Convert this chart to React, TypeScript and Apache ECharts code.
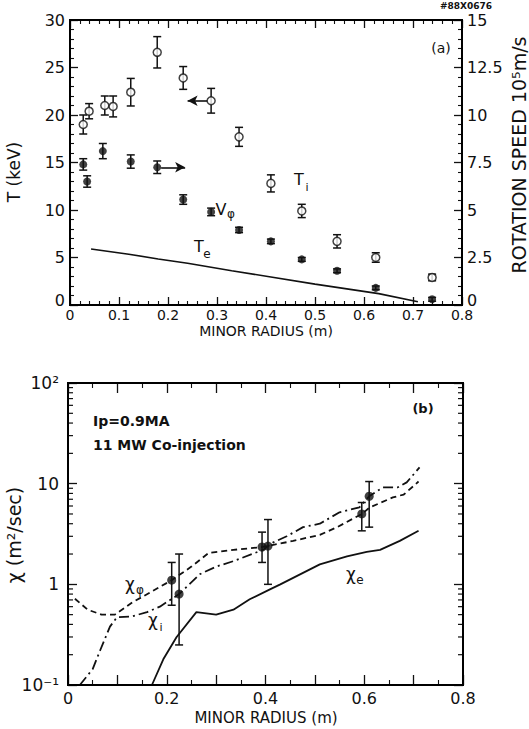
import React, { useEffect, useRef } from "react";
import * as echarts from "echarts";

// ---------- Panel (a) data ----------
const tiR = [0.027, 0.039, 0.071, 0.088, 0.124, 0.178, 0.231, 0.288, 0.345, 0.41, 0.473, 0.545, 0.624, 0.739];
const tiT = [19.0, 20.4, 21.0, 20.9, 22.4, 26.6, 23.9, 21.5, 17.7, 12.8, 9.9, 6.7, 5.0, 2.9];
const tiErr = [1.0, 0.8, 1.0, 1.1, 1.45, 1.65, 1.2, 1.3, 1.0, 0.9, 0.7, 0.7, 0.5, 0.35];

const vR = [0.027, 0.035, 0.067, 0.124, 0.178, 0.231, 0.288, 0.345, 0.41, 0.473, 0.545, 0.624, 0.739];
const vV = [7.4, 6.5, 8.1, 7.55, 7.25, 5.55, 4.9, 3.95, 3.35, 2.4, 1.8, 0.9, 0.3];
const vErr = [0.3, 0.3, 0.4, 0.35, 0.33, 0.25, 0.2, 0.14, 0.12, 0.1, 0.1, 0.1, 0.1];

const teR = [0.043, 0.12, 0.18, 0.24, 0.33, 0.41, 0.5, 0.63, 0.71];
const teT = [5.9, 5.35, 4.85, 4.4, 3.6, 2.95, 2.2, 1.2, 0.35];

// ---------- Panel (b) data ----------
const chiPhiR = [0.014, 0.04, 0.068, 0.095, 0.13, 0.17, 0.21, 0.25, 0.285, 0.335, 0.395, 0.456, 0.51, 0.545, 0.595, 0.611, 0.658, 0.68, 0.71];
const chiPhiV = [0.72, 0.56, 0.5, 0.5, 0.66, 0.85, 1.1, 1.5, 2.05, 2.2, 2.35, 2.7, 3.1, 3.7, 5.0, 5.8, 7.3, 7.8, 10.5];

const chiIR = [0.024, 0.05, 0.065, 0.085, 0.099, 0.13, 0.16, 0.186, 0.225, 0.267, 0.3, 0.335, 0.395, 0.415, 0.443, 0.476, 0.51, 0.55, 0.59, 0.61, 0.638, 0.668, 0.686, 0.712];
const chiIV = [0.1, 0.144, 0.22, 0.38, 0.47, 0.48, 0.53, 0.6, 0.8, 1.26, 1.5, 1.7, 2.2, 2.6, 3.0, 3.7, 4.0, 5.2, 5.8, 7.5, 9.2, 9.2, 10.3, 14.5];

const chiER = [0.17, 0.193, 0.22, 0.26, 0.3, 0.335, 0.368, 0.409, 0.43, 0.51, 0.565, 0.605, 0.632, 0.672, 0.71];
const chiEV = [0.1, 0.18, 0.3, 0.53, 0.5, 0.56, 0.71, 0.89, 1.0, 1.58, 1.9, 2.1, 2.2, 2.7, 3.4];

const chiPhiPtR = [0.21, 0.393, 0.595];
const chiPhiPtV = [1.1, 2.35, 5.0];
const chiPhiPtLo = [0.62, 1.65, 3.4];
const chiPhiPtHi = [1.65, 3.3, 6.5];

const chiIPtR = [0.225, 0.405, 0.61];
const chiIPtV = [0.8, 2.4, 7.5];
const chiIPtLo = [0.25, 1.0, 3.7];
const chiIPtHi = [2.0, 4.4, 10.5];

const logMinorTicks = [0.2, 0.3, 0.4, 0.5, 0.6, 0.7, 0.8, 0.9, 2, 3, 4, 5, 6, 7, 8, 9, 20, 30, 40, 50, 60, 70, 80, 90];

// axis extents
const X_MIN = 0, X_MAX = 0.8;
const T_MIN = 0, T_MAX = 30;
const CHI_MIN = 0.1, CHI_MAX = 100;

// panel layout (pixels)
const G1 = { left: 70, top: 20, width: 392, height: 285 };
const G2 = { left: 68, top: 383, width: 395, height: 302 };

const FONT = "DejaVu Sans";
const INK = "#111";

function errRender(params: any, api: any) {
  const x = api.value(0);
  const lo = api.value(1);
  const hi = api.value(2);
  const a = api.coord([x, lo]);
  const b = api.coord([x, hi]);
  const w = 4;
  const st = { stroke: INK, lineWidth: 1.5 };
  return {
    type: "group",
    children: [
      { type: "line", shape: { x1: a[0], y1: a[1], x2: b[0], y2: b[1] }, style: st },
      { type: "line", shape: { x1: a[0] - w, y1: a[1], x2: a[0] + w, y2: a[1] }, style: st },
      { type: "line", shape: { x1: b[0] - w, y1: b[1], x2: b[0] + w, y2: b[1] }, style: st },
    ],
  };
}

function minorTickRender(params: any, api: any) {
  const v = api.value(1);
  const l = api.coord([X_MIN, v]);
  const r = api.coord([X_MAX, v]);
  const st = { stroke: INK, lineWidth: 1.2 };
  return {
    type: "group",
    children: [
      { type: "line", shape: { x1: l[0] + 0.5, y1: l[1], x2: l[0] + 5, y2: l[1] }, style: st },
      { type: "line", shape: { x1: r[0] - 5, y1: r[1], x2: r[0] - 0.5, y2: r[1] }, style: st },
    ],
  };
}

function txt(text: string, x: number, y: number, size: number, extra: any = {}) {
  return {
    type: "text",
    x,
    y,
    rotation: extra.rotation || 0,
    z: 100,
    style: {
      text,
      fontSize: size,
      fontFamily: FONT,
      fontWeight: extra.weight || "normal",
      fontStyle: extra.style || "normal",
      fill: INK,
      align: extra.align || "center",
      verticalAlign: "middle",
    },
  };
}

function frameRect(g: { left: number; top: number; width: number; height: number }) {
  return {
    type: "rect",
    z: 90,
    silent: true,
    shape: { x: g.left, y: g.top, width: g.width, height: g.height },
    style: { fill: "rgba(0,0,0,0)", stroke: "#000", lineWidth: 2 },
  };
}

const axisLineStyle = { show: true, onZero: false, lineStyle: { color: "#000", width: 2 } };

export default function App() {
  const ref = useRef<HTMLDivElement>(null);
  useEffect(() => {
    const chart = echarts.init(ref.current!, null, { renderer: "svg" });
    const linTicks = (len: number, split: number) => ({
      axisTick: { show: true, inside: true, length: len, lineStyle: { color: INK, width: 1.3 } },
      minorTick: { show: true, splitNumber: split, length: len / 2, lineStyle: { color: INK, width: 1.1 } },
      splitLine: { show: false },
      minorSplitLine: { show: false },
      axisLine: axisLineStyle,
    });
    const labelStyle = (margin: number, size = 15) => ({
      color: INK,
      fontFamily: FONT,
      fontSize: size,
      margin,
    });
    const liftZero = (size: number) => ({
      formatter: (v: number) => (v === 0 ? "{z|0}" : String(v)),
      rich: { z: { fontSize: size, fontFamily: FONT, color: INK, padding: [0, 0, 10, 0] } },
    });

    const option: any = {
      animation: false,
      backgroundColor: "#fff",
      grid: [G1, G2],
      xAxis: [
        {
          type: "value", gridIndex: 0, min: X_MIN, max: X_MAX, interval: 0.1, position: "bottom",
          ...linTicks(8, 5),
          axisLabel: { ...labelStyle(3, 14), formatter: (v: number) => (v === 0 ? "0" : v.toFixed(1)) },
        },
        {
          type: "value", gridIndex: 0, min: X_MIN, max: X_MAX, interval: 0.1, position: "top",
          ...linTicks(8, 5),
          axisLabel: { show: false },
        },
        {
          type: "value", gridIndex: 1, min: X_MIN, max: X_MAX, interval: 0.1, position: "bottom",
          ...linTicks(10, 2),
          axisLabel: {
            ...labelStyle(5, 16),
            formatter: (v: number) => {
              const k = Math.round(v * 10);
              if (k % 2 !== 0) return "";
              return k === 0 ? "0" : v.toFixed(1);
            },
          },
        },
        {
          type: "value", gridIndex: 1, min: X_MIN, max: X_MAX, interval: 0.1, position: "top",
          ...linTicks(10, 2),
          axisLabel: { show: false },
        },
      ],
      yAxis: [
        {
          type: "value", gridIndex: 0, min: T_MIN, max: T_MAX, interval: 5, position: "left",
          ...linTicks(8, 5),
          axisLabel: { ...labelStyle(5, 16), ...liftZero(16) },
        },
        {
          type: "value", gridIndex: 0, min: 0, max: 15, interval: 2.5, position: "right",
          ...linTicks(8, 5),
          axisLabel: { ...labelStyle(5, 16), ...liftZero(16) },
        },
        {
          type: "log", gridIndex: 1, min: CHI_MIN, max: CHI_MAX, logBase: 10, position: "left",
          axisTick: { show: true, inside: true, length: 9, lineStyle: { color: INK, width: 1.3 } },
          minorTick: { show: false },
          splitLine: { show: false },
          axisLine: axisLineStyle,
          axisLabel: {
            ...labelStyle(9, 17),
            formatter: (v: number) => {
              const e = Math.round(Math.log10(v));
              if (e === -1) return "10⁻¹";
              if (e === 0) return "1";
              if (e === 1) return "10";
              return "10²";
            },
          },
        },
        {
          type: "log", gridIndex: 1, min: CHI_MIN, max: CHI_MAX, logBase: 10, position: "right",
          axisTick: { show: true, inside: true, length: 9, lineStyle: { color: INK, width: 1.3 } },
          minorTick: { show: false },
          splitLine: { show: false },
          axisLine: axisLineStyle,
          axisLabel: { show: false },
        },
      ],
      series: [
        {
          type: "line", xAxisIndex: 0, yAxisIndex: 0, symbol: "none",
          data: teR.map((r, i) => [r, teT[i]]),
          lineStyle: { color: INK, width: 1.6 },
          z: 2,
        },
        {
          type: "custom", xAxisIndex: 0, yAxisIndex: 0, renderItem: errRender,
          data: tiR.map((r, i) => [r, tiT[i] - tiErr[i], tiT[i] + tiErr[i]]),
          z: 3,
        },
        {
          type: "scatter", xAxisIndex: 0, yAxisIndex: 0, symbol: "circle", symbolSize: 8,
          data: tiR.map((r, i) => [r, tiT[i]]),
          itemStyle: { color: "#fff", borderColor: INK, borderWidth: 1.5 },
          z: 4,
          markLine: {
            silent: true, symbol: ["none", "arrow"], symbolSize: [8, 10],
            label: { show: false },
            lineStyle: { color: INK, width: 1.6, type: "solid" },
            data: [[{ coord: [0.28, 21.5] }, { coord: [0.24, 21.5] }]],
          },
        },
        {
          type: "custom", xAxisIndex: 0, yAxisIndex: 1, renderItem: errRender,
          data: vR.map((r, i) => [r, vV[i] - vErr[i], vV[i] + vErr[i]]),
          z: 3,
        },
        {
          type: "scatter", xAxisIndex: 0, yAxisIndex: 1, symbol: "circle", symbolSize: 8,
          data: vR.map((r, i) => [r, vV[i]]),
          itemStyle: { color: INK },
          z: 4,
          markLine: {
            silent: true, symbol: ["none", "arrow"], symbolSize: [8, 10],
            label: { show: false },
            lineStyle: { color: INK, width: 1.6, type: "solid" },
            data: [[{ coord: [0.186, 7.25] }, { coord: [0.235, 7.25] }]],
          },
        },
        {
          type: "line", xAxisIndex: 2, yAxisIndex: 2, symbol: "none",
          data: chiER.map((r, i) => [r, chiEV[i]]),
          lineStyle: { color: INK, width: 1.8 },
        },
        {
          type: "line", xAxisIndex: 2, yAxisIndex: 2, symbol: "none",
          data: chiPhiR.map((r, i) => [r, chiPhiV[i]]),
          lineStyle: { color: INK, width: 1.8, type: [6, 4] },
        },
        {
          type: "line", xAxisIndex: 2, yAxisIndex: 2, symbol: "none",
          data: chiIR.map((r, i) => [r, chiIV[i]]),
          lineStyle: { color: INK, width: 1.8, type: [10, 4, 2, 4] },
        },
        {
          type: "custom", xAxisIndex: 2, yAxisIndex: 2, renderItem: errRender,
          data: chiPhiPtR.map((r, i) => [r, chiPhiPtLo[i], chiPhiPtHi[i]]),
          z: 3,
        },
        {
          type: "custom", xAxisIndex: 2, yAxisIndex: 2, renderItem: errRender,
          data: chiIPtR.map((r, i) => [r, chiIPtLo[i], chiIPtHi[i]]),
          z: 3,
        },
        {
          type: "scatter", xAxisIndex: 2, yAxisIndex: 2, symbol: "circle", symbolSize: 9,
          data: chiPhiPtR.map((r, i) => [r, chiPhiPtV[i]]),
          itemStyle: { color: INK },
          z: 4,
        },
        {
          type: "scatter", xAxisIndex: 2, yAxisIndex: 2, symbol: "circle", symbolSize: 9,
          data: chiIPtR.map((r, i) => [r, chiIPtV[i]]),
          itemStyle: { color: INK },
          z: 4,
        },
        {
          type: "custom", xAxisIndex: 2, yAxisIndex: 2, renderItem: minorTickRender,
          data: logMinorTicks.map((v) => [0.4, v]),
          z: 5,
        },
      ],
      graphic: [
        frameRect(G1),
        frameRect(G2),
        txt("#88X0676", 466, 6, 9, { weight: "bold" }),
        txt("(a)", 441, 48, 14),
        txt("T (keV)", 14, 172, 17, { rotation: Math.PI / 2 }),
        txt("ROTATION SPEED 10⁵m/s", 519, 155, 19, { rotation: Math.PI / 2 }),
        txt("MINOR RADIUS (m)", 266, 331, 14),
        txt("T", 299, 179, 16),
        txt("i", 307, 187, 11),
        txt("V", 221, 209, 16),
        txt("φ", 231, 214, 12),
        txt("T", 199, 246, 16),
        txt("e", 207, 254, 12),
        txt("(b)", 423, 408, 13, { weight: "bold" }),
        txt("Ip=0.9MA", 93, 421, 14, { align: "left", weight: "bold" }),
        txt("11 MW Co-injection", 93, 445, 14, { align: "left", weight: "bold" }),
        txt("χ", 130, 584, 17),
        txt("φ", 140, 590, 12),
        txt("χ", 153, 620, 17),
        txt("i", 161, 627, 11),
        txt("χ", 351, 574, 17),
        txt("e", 360, 580, 12),
        txt("χ (m²/sec)", 14, 535, 19, { rotation: Math.PI / 2 }),
        txt("MINOR RADIUS (m)", 266, 718, 15),
      ],
    };
    chart.setOption(option);
    return () => chart.dispose();
  }, []);
  return <div ref={ref} style={{ position: "absolute", left: 0, top: 0, width: 529, height: 729 }} />;
}
